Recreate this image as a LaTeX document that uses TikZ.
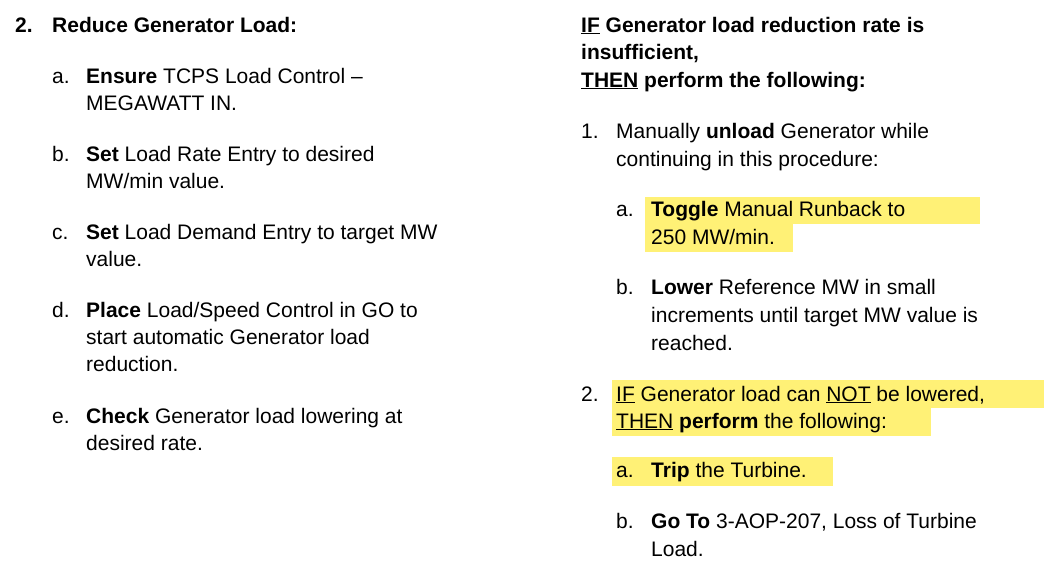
\documentclass[tikz,border=0pt]{standalone}
\usepackage{fontspec}
\setmainfont{Liberation Sans}
\definecolor{hl}{HTML}{FFF176}
\newcommand{\tl}[3]{\node[txt] at (#1pt,-#2pt) {#3};}
\newcommand{\hb}[4]{\fill[hl] (#1pt,-#2pt) rectangle (#3pt,-#4pt);}
\begin{document}
\begin{tikzpicture}[x=1pt,y=1pt,txt/.style={anchor=base west,inner sep=0pt,font=\fontsize{21}{25}\selectfont}]
\useasboundingbox (0,0) rectangle (1055pt,-573pt);
\hb{645}{197}{980}{224}
\hb{645}{224}{793}{252}
\hb{612}{380}{1044}{408}
\hb{612}{408}{931}{436}
\hb{612}{457}{833}{486}
\tl{15}{32}{\textbf{2.}}
\tl{52}{32}{\textbf{Reduce Generator Load:}}
\tl{52}{83}{a.}\tl{86}{83}{\textbf{Ensure} TCPS Load Control –}
\tl{86}{110}{MEGAWATT IN.}
\tl{52}{161}{b.}\tl{86}{161}{\textbf{Set} Load Rate Entry to desired}
\tl{86}{188}{MW/min value.}
\tl{52}{239}{c.}\tl{86}{239}{\textbf{Set} Load Demand Entry to target MW}
\tl{86}{266}{value.}
\tl{52}{317}{d.}\tl{86}{317}{\textbf{Place} Load/Speed Control in GO to}
\tl{86}{344}{start automatic Generator load}
\tl{86}{371}{reduction.}
\tl{52}{423}{e.}\tl{86}{423}{\textbf{Check} Generator load lowering at}
\tl{86}{450}{desired rate.}
\tl{581}{32}{\textbf{\underline{IF} Generator load reduction rate is}}
\tl{581}{59}{\textbf{insufficient,}}
\tl{581}{87}{\textbf{\underline{THEN} perform the following:}}
\tl{581}{138}{1.}\tl{616}{138}{Manually \textbf{unload} Generator while}
\tl{616}{166}{continuing in this procedure:}
\tl{616}{216}{a.}\tl{651}{216}{\textbf{Toggle} Manual Runback to}
\tl{651}{244}{250 MW/min.}
\tl{616}{294}{b.}\tl{651}{294}{\textbf{Lower} Reference MW in small}
\tl{651}{322}{increments until target MW value is}
\tl{651}{350}{reached.}
\tl{581}{401}{2.}\tl{616}{401}{\underline{IF} Generator load can \underline{NOT} be lowered,}
\tl{616}{428}{\underline{THEN} \textbf{perform} the following:}
\tl{616}{477}{a.}\tl{651}{477}{\textbf{Trip} the Turbine.}
\tl{616}{528}{b.}\tl{651}{528}{\textbf{Go To} 3-AOP-207, Loss of Turbine}
\tl{651}{556}{Load.}
\end{tikzpicture}
\end{document}
